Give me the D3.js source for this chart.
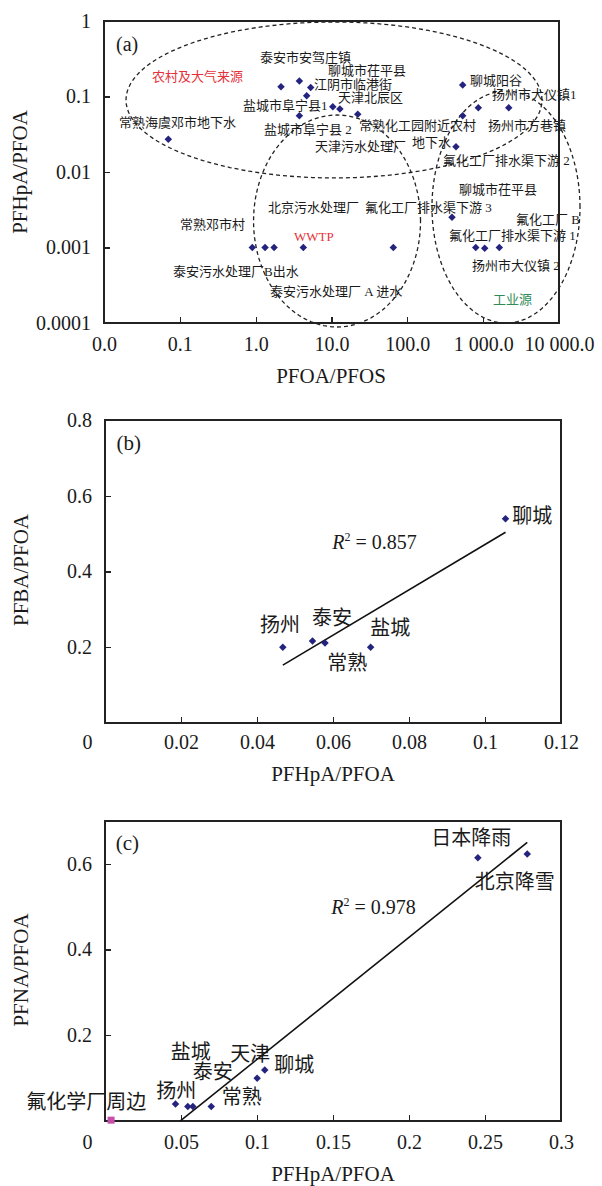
<!DOCTYPE html>
<html>
<head>
<meta charset="UTF-8">
<title></title>
<style>
body { margin: 0; background: #fff; }
svg text { font-family: "Liberation Serif", "Times New Roman", "Noto Sans CJK SC", serif; fill: #1a1a1a; }
.axis line { stroke: #222; stroke-width: 1.2px; shape-rendering: crispEdges; }
.axis path { display: none; }
.axis text { font-size: 20px; }
.frame { fill: none; stroke: #222; stroke-width: 1.5px; shape-rendering: crispEdges; }
.pt { fill: #24247e; }
.ell { fill: none; stroke: #222; stroke-width: 1.3px; stroke-dasharray: 4 3; }
.fit { fill: none; stroke: #111; stroke-width: 1.6px; }
</style>
</head>
<body>
<script src="https://cdn.jsdelivr.net/npm/d3@7"></script>
<script>
// ---- (a) PFOA/PFOS vs PFHpA/PFOA, 双对数
var aX = [2.16, 3.77, 5.32, 4.71, 10.4, 12.9, 3.77, 22.2, 537, 863, 2173, 537, 438,
          0.0705, 0.903, 1.33, 1.75, 4.25, 65.3, 388, 798, 1048, 1633];
var aY = [0.135, 0.160, 0.132, 0.102, 0.0733, 0.0682, 0.0557, 0.0581, 0.142, 0.0711, 0.0711, 0.0557, 0.0216,
          0.0271, 0.001, 0.001, 0.001, 0.001, 0.001, 0.00251, 0.001, 0.00098, 0.001];
var aXTicks = [0.01, 0.1, 1, 10, 100, 1000, 10000];
var aXTickLabels = ["0.0", "0.1", "1.0", "10.0", "100.0", "1 000.0", "10 000.0"];
var aYTicks = [1, 0.1, 0.01, 0.001, 0.0001];
var aYTickLabels = ["1", "0.1", "0.01", "0.001", "0.0001"];
// 标注文字, 位置为 log10 坐标
var aLabels = [
  ["泰安市安驾庄镇", 0.057, -0.486], ["聊城市茌平县", 0.954, -0.649], ["江阴市临港街", 0.769, -0.834],
  ["聊城阳谷", 2.827, -0.781], ["扬州市大仪镇1", 3.117, -0.971], ["天津北辰区", 1.086, -1.016],
  ["盐城市阜宁县1", -0.167, -1.122], ["常熟海虞邓市地下水", -1.802, -1.342], ["盐城市阜宁县 2", 0.110, -1.430],
  ["常熟化工园附近农村", 1.363, -1.377], ["扬州市方巷镇", 3.064, -1.377], ["天津污水处理厂", 0.783, -1.665],
  ["地下水", 2.062, -1.603], ["氟化工厂排水渠下游 2", 2.471, -1.850], ["聊城市茌平县", 2.682, -2.225],
  ["北京污水处理厂", 0.163, -2.464], ["氟化工厂排水渠下游 3", 1.442, -2.464], ["常熟邓市村", -0.998, -2.689],
  ["氟化工厂 B", 3.433, -2.623], ["氟化工厂排水渠下游 1", 2.550, -2.844], ["泰安污水处理厂B出水", -1.090, -3.321],
  ["扬州市大仪镇 2", 2.853, -3.241], ["泰安污水处理厂 A 进水", 0.189, -3.576]
];
var aGroups = [["农村及大气来源", -1.367, -0.738, "#e5323a"], ["WWTP", 0.506, -2.848, "#e5323a"], ["工业源", 3.130, -3.682, "#2e8b57"]];
// 分组椭圆: 中心与半轴 (log10 单位)
var aEllipses = [[1.033, -1.046, 2.743, 1.033], [1.073, -2.649, 1.101, 1.404], [3.301, -2.464, 0.976, 1.536]];

// ---- (b) PFHpA/PFOA vs PFBA/PFOA
var bNames = ["扬州", "泰安", "常熟", "盐城", "聊城"];
var bX = [0.0468, 0.0546, 0.0579, 0.0699, 0.1054];
var bY = [0.200, 0.2165, 0.211, 0.200, 0.539];
var bLabelPos = [[0.0408, 0.259], [0.0545, 0.277], [0.0585, 0.158], [0.0698, 0.251], [0.1072, 0.5465]];
var bXTicks = [0, 0.02, 0.04, 0.06, 0.08, 0.1, 0.12];
var bXTickLabels = ["0", "0.02", "0.04", "0.06", "0.08", "0.1", "0.12"];
var bYTicks = [0.2, 0.4, 0.6, 0.8];
var bYTickLabels = ["0.2", "0.4", "0.6", "0.8"];
var bR2 = "0.857";

// ---- (c) PFHpA/PFOA vs PFNA/PFOA
var cNames = ["扬州", "泰安", "盐城", "常熟", "天津", "聊城", "日本降雨", "北京降雪"];
var cX = [0.0464, 0.0545, 0.0578, 0.0699, 0.1001, 0.1051, 0.2453, 0.2778];
var cY = [0.0395, 0.034, 0.034, 0.034, 0.100, 0.119, 0.614, 0.623];
var cLabelPos = [[0.0337, 0.071], [0.0578, 0.115], [0.0433, 0.161], [0.0768, 0.057], [0.0824, 0.1565], [0.1113, 0.131], [0.2146, 0.661], [0.2433, 0.559]];
var cOtherName = "氟化学厂周边";
var cOtherX = [0.004];
var cOtherY = [0.002];
var cOtherLabelPos = [-0.0518, 0.0456];
var cXTicks = [0, 0.05, 0.1, 0.15, 0.2, 0.25, 0.3];
var cXTickLabels = ["0", "0.05", "0.1", "0.15", "0.2", "0.25", "0.3"];
var cYTicks = [0.2, 0.4, 0.6];
var cYTickLabels = ["0.2", "0.4", "0.6"];
var cR2 = "0.978";

var svg = d3.select('body').append('svg')
  .attr('width', 602).attr('height', 1186);

var diamond = d3.symbol().type(d3.symbolSquare).size(28)();

function drawAxes(g, x, y, xt, xl, yt, yl, xPad, zeroShift) {
  var xa = d3.axisBottom(x).tickValues(xt).tickSizeInner(-6).tickSizeOuter(0).tickPadding(xPad)
    .tickFormat(function (d, i) { return xl[i]; });
  var ya = d3.axisLeft(y).tickValues(yt).tickSizeInner(-6).tickSizeOuter(0).tickPadding(13)
    .tickFormat(function (d, i) { return yl[i]; });
  var gx = g.append('g').attr('class', 'axis').attr('transform', 'translate(0,' + y.range()[0] + ')').call(xa);
  g.append('g').attr('class', 'axis').attr('transform', 'translate(' + x.range()[0] + ',0)').call(ya);
  gx.selectAll('text').attr('fill', '#1a1a1a');
  if (zeroShift) {
    gx.selectAll('.tick').filter(function (d) { return d === 0; }).select('text').attr('dx', zeroShift);
  }
  g.append('rect').attr('class', 'frame')
    .attr('x', x.range()[0]).attr('y', y.range()[1])
    .attr('width', x.range()[1] - x.range()[0]).attr('height', y.range()[0] - y.range()[1]);
}

function titles(g, xt, xPos, yt, yPos) {
  g.append('text').attr('x', xPos[0]).attr('y', xPos[1]).attr('text-anchor', 'middle')
    .attr('dominant-baseline', 'central').style('font-size', '21px').text(xt);
  g.append('text').attr('transform', 'translate(' + yPos[0] + ',' + yPos[1] + ') rotate(-90)')
    .attr('text-anchor', 'middle').attr('dominant-baseline', 'central').style('font-size', '21px').text(yt);
}

function linreg(xs, ys) {
  var mx = d3.mean(xs), my = d3.mean(ys), sxy = 0, sxx = 0;
  xs.forEach(function (v, i) { sxy += (v - mx) * (ys[i] - my); sxx += (v - mx) * (v - mx); });
  var k = sxy / sxx;
  return { k: k, b: my - k * mx };
}

function r2Text(g, px, py, val) {
  var t = g.append('text').attr('x', px).attr('y', py).attr('dy', '0.35em').style('font-size', '20px');
  t.append('tspan').style('font-style', 'italic').text('R');
  t.append('tspan').attr('dy', -8).style('font-size', '12px').text('2');
  t.append('tspan').attr('dy', 8).text(' = ' + val);
}

// ================= (a)
var ga = svg.append('g');
var xa = d3.scaleLog().domain([0.01, 10000]).range([104, 559]);
var ya = d3.scaleLog().domain([0.0001, 1]).range([323, 21]);
drawAxes(ga, xa, ya, aXTicks, aXTickLabels, aYTicks, aYTickLabels, 14, 0);
titles(ga, 'PFOA/PFOS', [331, 376], 'PFHpA/PFOA', [20, 172]);

var ellLine = d3.line().curve(d3.curveLinearClosed)
  .x(function (d) { return xa(d[0]); }).y(function (d) { return ya(d[1]); });
ga.selectAll('path.ell').data(aEllipses).enter().append('path').attr('class', 'ell')
  .attr('d', function (e) {
    var pts = d3.range(0, 120).map(function (i) {
      var t = i / 120 * 2 * Math.PI;
      return [Math.pow(10, e[0] + e[2] * Math.cos(t)), Math.pow(10, e[1] + e[3] * Math.sin(t))];
    });
    return ellLine(pts);
  });

ga.selectAll('path.pt').data(aX).enter().append('path').attr('class', 'pt')
  .attr('d', diamond)
  .attr('transform', function (d, i) { return 'translate(' + xa(d) + ',' + ya(aY[i]) + ') rotate(45)'; });

ga.selectAll('text.lab').data(aLabels).enter().append('text').attr('class', 'lab')
  .attr('x', function (d) { return xa(Math.pow(10, d[1])); })
  .attr('y', function (d) { return ya(Math.pow(10, d[2])); })
  .attr('dy', '0.36em').style('font-size', '13px').text(function (d) { return d[0]; });
ga.selectAll('text.grp').data(aGroups).enter().append('text').attr('class', 'grp')
  .attr('x', function (d) { return xa(Math.pow(10, d[1])); })
  .attr('y', function (d) { return ya(Math.pow(10, d[2])); })
  .attr('dy', '0.36em').style('font-size', '13px').style('fill', function (d) { return d[3]; })
  .text(function (d) { return d[0]; });
ga.append('text').attr('x', 116).attr('y', 45).attr('dy', '0.32em').style('font-size', '20px').text('(a)');

// ================= (b)
var gb = svg.append('g');
var xb = d3.scaleLinear().domain([0, 0.12]).range([105, 561]);
var yb = d3.scaleLinear().domain([0, 0.8]).range([723, 420]);
drawAxes(gb, xb, yb, bXTicks, bXTickLabels, bYTicks, bYTickLabels, 12, -18);
titles(gb, 'PFHpA/PFOA', [333, 774], 'PFBA/PFOA', [21, 570]);

var fb = linreg(bX, bY);
var bx0 = d3.min(bX), bx1 = d3.max(bX);
gb.append('line').attr('class', 'fit')
  .attr('x1', xb(bx0)).attr('y1', yb(fb.k * bx0 + fb.b))
  .attr('x2', xb(bx1)).attr('y2', yb(fb.k * bx1 + fb.b));
gb.selectAll('path.pt').data(bX).enter().append('path').attr('class', 'pt')
  .attr('d', diamond)
  .attr('transform', function (d, i) { return 'translate(' + xb(d) + ',' + yb(bY[i]) + ') rotate(45)'; });
gb.selectAll('text.lab').data(bNames).enter().append('text').attr('class', 'lab')
  .attr('x', function (d, i) { return xb(bLabelPos[i][0]); })
  .attr('y', function (d, i) { return yb(bLabelPos[i][1]); })
  .attr('dy', '0.36em').style('font-size', '20px').text(function (d) { return d; });
r2Text(gb, xb(0.0598), yb(0.478), bR2);
gb.append('text').attr('x', xb(0.003)).attr('y', yb(0.739)).attr('dy', '0.32em').style('font-size', '21px').text('(b)');

// ================= (c)
var gc = svg.append('g');
var xc = d3.scaleLinear().domain([0, 0.3]).range([105, 561]);
var yc = d3.scaleLinear().domain([0, 0.7]).range([1121, 821]);
drawAxes(gc, xc, yc, cXTicks, cXTickLabels, cYTicks, cYTickLabels, 14, -18);
titles(gc, 'PFHpA/PFOA', [333, 1174], 'PFNA/PFOA', [21, 970]);

svg.append('clipPath').attr('id', 'clipc').append('rect')
  .attr('x', 105).attr('y', 821).attr('width', 456).attr('height', 300);
var fc = linreg(cX, cY);
var cx0 = d3.min(cX), cx1 = d3.max(cX);
gc.append('line').attr('class', 'fit').attr('clip-path', 'url(#clipc)')
  .attr('x1', xc(cx0)).attr('y1', yc(fc.k * cx0 + fc.b))
  .attr('x2', xc(cx1)).attr('y2', yc(fc.k * cx1 + fc.b));
gc.selectAll('path.pt').data(cX).enter().append('path').attr('class', 'pt')
  .attr('d', diamond)
  .attr('transform', function (d, i) { return 'translate(' + xc(d) + ',' + yc(cY[i]) + ') rotate(45)'; });
gc.selectAll('rect.oth').data(cOtherX).enter().append('rect').attr('class', 'oth')
  .attr('x', function (d) { return xc(d) - 3.5; })
  .attr('y', function (d, i) { return yc(cOtherY[i]) - 3.5; })
  .attr('width', 7).attr('height', 7).attr('fill', '#c64fa8');
gc.selectAll('text.lab').data(cNames).enter().append('text').attr('class', 'lab')
  .attr('x', function (d, i) { return xc(cLabelPos[i][0]); })
  .attr('y', function (d, i) { return yc(cLabelPos[i][1]); })
  .attr('dy', '0.36em').style('font-size', '20px').text(function (d) { return d; });
gc.append('text').attr('x', xc(cOtherLabelPos[0])).attr('y', yc(cOtherLabelPos[1]))
  .attr('dy', '0.36em').style('font-size', '20px').text(cOtherName);
r2Text(gc, xc(0.1488), yc(0.499), cR2);
gc.append('text').attr('x', xc(0.0071)).attr('y', yc(0.647)).attr('dy', '0.32em').style('font-size', '21px').text('(c)');
</script>
</body>
</html>
